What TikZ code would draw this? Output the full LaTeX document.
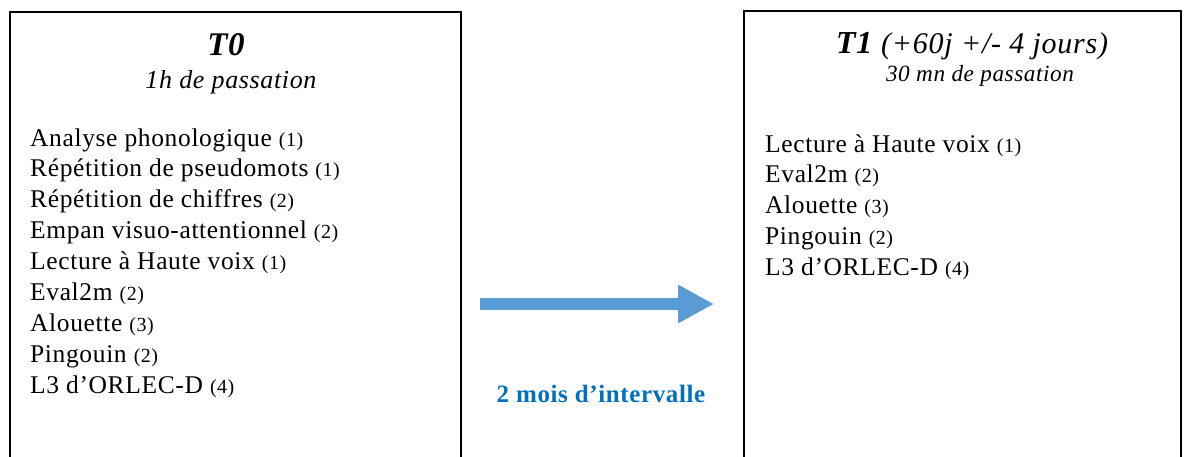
\documentclass[tikz,border=0pt]{standalone}
\usepackage{fontspec}
\setmainfont{Liberation Serif}[LetterSpace=2.5]
\usetikzlibrary{arrows.meta}
\definecolor{arrowblue}{HTML}{5B9BD5}
\definecolor{textblue}{HTML}{0070C0}
\newcommand{\nb}[1]{{\fontsize{20}{20}\selectfont(#1)}}
\tikzset{
  x=1pt, y=-1pt,
  box/.style = {draw, line width=1.6pt},
  title/.style = {anchor=base, inner sep=0pt, font=\fontsize{32}{32}\selectfont\bfseries\itshape},
  subtitle/.style = {anchor=base, inner sep=0pt, font=\fontsize{23.2}{23.2}\selectfont\itshape},
  item/.style = {anchor=base west, inner sep=0pt, font=\fontsize{25.5}{25.5}\selectfont}
}

\begin{document}
\begin{tikzpicture}
  \useasboundingbox (0,0) rectangle (1189,456);
  % the two sessions
  \draw[box] (10,12) rectangle (461,480);
  \draw[box] (744,11) rectangle (1181,480);
  % T0
  \node[title, font=\fontsize{33}{33}\selectfont\bfseries\itshape] (t0) at (226,55) {T0};
  \node[subtitle, font=\fontsize{26}{26}\selectfont\itshape] (t0sub) at (231,88) {1h de passation};
  \foreach \txt/\num [count=\i] in {Analyse phonologique/1, Répétition de pseudomots/1,
      Répétition de chiffres/2, Empan visuo-attentionnel/2, Lecture à Haute voix/1,
      Eval2m/2, Alouette/3, Pingouin/2, L3 d’ORLEC-D/4}
    \node[item] (t0-\i) at (30,{146+30.9*(\i-1)}) {\txt\ \nb{\num}};
  % T1
  \node[title] (t1) at (972,53) {T1 {\mdseries\fontsize{30}{30}\selectfont(+60j +/- 4 jours)}};
  \node[subtitle] (t1sub) at (980,81) {30 mn de passation};
  \foreach \txt/\num [count=\i] in {Lecture à Haute voix/1, Eval2m/2, Alouette/3,
      Pingouin/2, L3 d’ORLEC-D/4}
    \node[item] (t1-\i) at (765,{152+30.75*(\i-1)}) {\txt\ \nb{\num}};
  % interval
  \coordinate (a) at (480,304);
  \coordinate (b) at (714,304);
  \draw[arrowblue, line width=12pt, -{Triangle[length=36pt,width=36pt]}] (a) -- (b);
  \node[anchor=base, inner sep=0pt, textblue, font=\fontsize{25}{25}\selectfont\bfseries]
    (gap) at (601,402) {2 mois d’intervalle};
\end{tikzpicture}
\end{document}
